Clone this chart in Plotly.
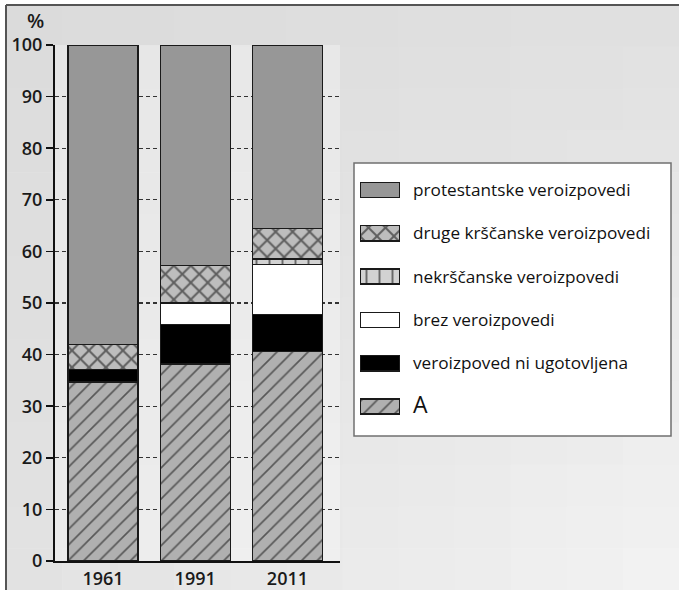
import plotly.graph_objects as go

W, H = 679, 590

# ---- data ----
years = ["1961", "1991", "2011"]
series_names = [
    "A",
    "veroizpoved ni ugotovljena",
    "brez veroizpovedi",
    "nekrščanske veroizpovedi",
    "druge krščanske veroizpovedi",
    "protestantske veroizpovedi",
]
val_A = [34.7, 38.2, 40.6]
val_ni_ugotovljena = [2.4, 7.6, 7.2]
val_brez = [0.0, 4.2, 9.6]
val_nekrscanske = [0.0, 0.0, 1.1]
val_druge_krscanske = [4.8, 7.3, 5.9]
val_protestantske = [58.1, 42.7, 35.6]
y_ticks = [0, 10, 20, 30, 40, 50, 60, 70, 80, 90, 100]

series_values = [val_A, val_ni_ugotovljena, val_brez, val_nekrscanske,
                 val_druge_krscanske, val_protestantske]

# ---- styles ----
styles = {
    "A": dict(color="#b0b0b0", pattern=dict(shape="/", fgcolor="#000000", size=11, solidity=0.15)),
    "veroizpoved ni ugotovljena": dict(color="#000000", pattern=None),
    "brez veroizpovedi": dict(color="#ffffff", pattern=None),
    "nekrščanske veroizpovedi": dict(color="#d2d2d2", pattern=dict(shape="|", fgcolor="#000000", size=13, solidity=0.15)),
    "druge krščanske veroizpovedi": dict(color="#bdbdbd", pattern=dict(shape="x", fgcolor="#000000", size=12, solidity=0.3)),
    "protestantske veroizpovedi": dict(color="#979797", pattern=None),
}

def px_x(p):
    return p / W

def px_y(p):
    return 1 - p / H

fig = go.Figure()

for name, vals in zip(series_names, series_values):
    st = styles[name]
    marker = dict(color=st["color"], line=dict(color="#1a1a1a", width=1.3))
    if st["pattern"]:
        marker["pattern"] = st["pattern"]
    fig.add_trace(go.Bar(x=years, y=[v if v > 0 else None for v in vals], name=name,
                         marker=marker, showlegend=False,
                         xaxis="x", yaxis="y"))

# legend keys on an auxiliary axis
legend_order = list(reversed(series_names))
for name in legend_order:
    st = styles[name]
    marker = dict(color=st["color"], line=dict(color="#1a1a1a", width=1.5))
    if st["pattern"]:
        marker["pattern"] = dict(st["pattern"])
    fig.add_trace(go.Bar(x=[1], y=[name], orientation="h", width=0.35,
                         marker=marker, showlegend=False, hoverinfo="skip",
                         xaxis="x2", yaxis="y2"))

legend_ticktext = [n if n != "A" else "<span style='font-size:23px'>A</span>" for n in legend_order]

# ---- background shapes ----
shapes = []
nx, ny = 12, 14
x0p, x1p, y0p, y1p = 6, W, 5, H
for i in range(nx):
    for j in range(ny):
        u = (i + 0.5) / nx
        v = (j + 0.5) / ny
        c = int(round(219 + 5 * u + 7 * v + 12 * u * v))
        xa = x0p + (x1p - x0p) * i / nx
        xb = x0p + (x1p - x0p) * (i + 1) / nx
        ya = y0p + (y1p - y0p) * j / ny
        yb = y0p + (y1p - y0p) * (j + 1) / ny
        shapes.append(dict(type="rect", xref="paper", yref="paper",
                           x0=px_x(xa), x1=px_x(xb) + 0.001, y0=px_y(yb) - 0.001, y1=px_y(ya),
                           fillcolor=f"rgb({c},{c},{c})", line=dict(width=0), layer="below"))
# lighter plot area
shapes.append(dict(type="rect", xref="paper", yref="paper",
                   x0=px_x(55), x1=px_x(340), y0=px_y(561), y1=px_y(45),
                   fillcolor="rgba(255,255,255,0.3)", line=dict(width=0), layer="below"))
# frame
shapes.append(dict(type="line", xref="paper", yref="paper",
                   x0=px_x(6), x1=1, y0=px_y(5), y1=px_y(5),
                   line=dict(color="#555555", width=2)))
shapes.append(dict(type="line", xref="paper", yref="paper",
                   x0=px_x(6), x1=px_x(6), y0=0, y1=px_y(5),
                   line=dict(color="#555555", width=2)))
# legend box
shapes.append(dict(type="rect", xref="paper", yref="paper",
                   x0=px_x(354), x1=px_x(671), y0=px_y(436), y1=px_y(163),
                   fillcolor="#ffffff", line=dict(color="#707070", width=1.5), layer="below"))

font_family = "Open Sans, Noto Sans, sans-serif"

fig.update_layout(
    width=W, height=H,
    autosize=False,
    margin=dict(l=0, r=0, t=0, b=0, pad=0, autoexpand=False),
    paper_bgcolor="#ffffff",
    plot_bgcolor="rgba(0,0,0,0)",
    barmode="stack",
    bargap=0.24,
    shapes=shapes,
    font=dict(family=font_family, color="#111111"),
    xaxis=dict(domain=[px_x(55), px_x(340)], type="category", range=[-0.52, 2.57],
               showline=True, linecolor="#111111", linewidth=2,
               ticks="", showgrid=False, zeroline=False, automargin=False,
               tickfont=dict(size=18, family=font_family, weight=600, color="#1a1a1a"),
               fixedrange=True),
    yaxis=dict(domain=[px_y(561), px_y(45)], range=[0, 100], tickvals=y_ticks,
               showline=True, linecolor="#111111", linewidth=2,
               ticks="outside", ticklen=7, tickwidth=1.5, tickcolor="#111111",
               showgrid=True, gridcolor="#333333", gridwidth=1.2, griddash="4px,3px",
               zeroline=False, automargin=False,
               tickfont=dict(size=18, family=font_family, weight=600, color="#1a1a1a"),
               fixedrange=True),
    xaxis2=dict(domain=[px_x(360), px_x(400)], range=[0, 1], visible=False,
                anchor="y2", fixedrange=True, automargin=False),
    yaxis2=dict(domain=[px_y(428.2), px_y(168.3)], type="category",
                categoryorder="array", categoryarray=legend_order,
                autorange="reversed", anchor="x2", side="right",
                tickvals=legend_order, ticktext=legend_ticktext,
                showline=False, showgrid=False, zeroline=False, ticks="",
                ticklabelstandoff=12, automargin=False,
                tickfont=dict(size=17.2, family=font_family, color="#111111"),
                fixedrange=True),
    annotations=[dict(text="%", x=px_x(35), y=px_y(21), xref="paper", yref="paper",
                      showarrow=False, xanchor="center", yanchor="middle",
                      font=dict(size=20, family=font_family, weight=600, color="#1a1a1a"))],
)

fig.write_html("out.html",
               config={"displayModeBar": False, "staticPlot": True},
               post_script="document.body.style.margin='0';document.body.style.padding='0';document.body.style.overflow='hidden';")
